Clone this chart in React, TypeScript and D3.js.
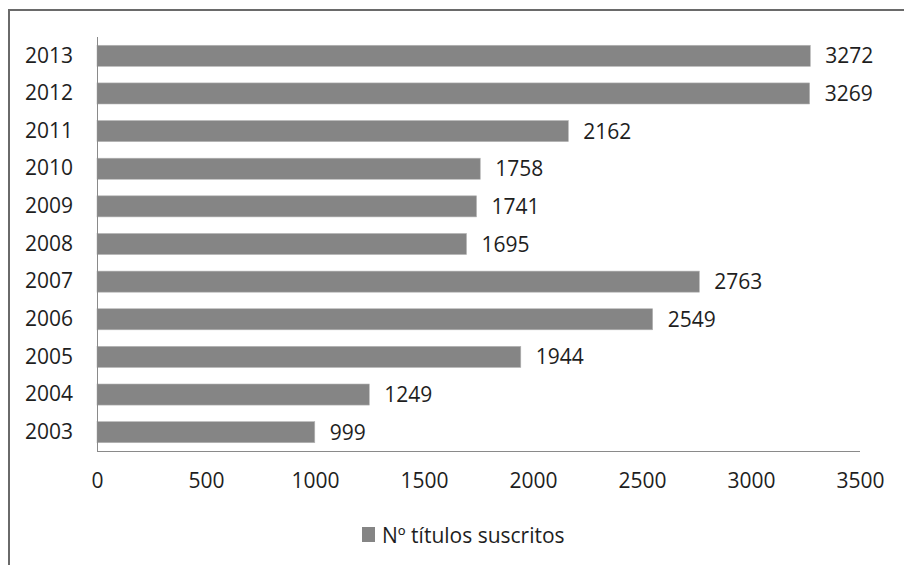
import * as d3 from 'd3';
import React, { useRef, useEffect } from 'react';

const years = ['2003', '2004', '2005', '2006', '2007', '2008', '2009', '2010', '2011', '2012', '2013'];
const titulos = [999, 1249, 1944, 2549, 2763, 1695, 1741, 1758, 2162, 3269, 3272];
const xTicks = [0, 500, 1000, 1500, 2000, 2500, 3000, 3500];
const seriesName = 'Nº títulos suscritos';

const W = 904;
const H = 565;
const FONT = '"Open Sans", "Noto Sans", sans-serif';

function App() {
    const ref = useRef<SVGSVGElement>(null);

    useEffect(() => {
        const svg = d3.select(ref.current);
        svg.selectAll('*').remove();

        const left = 97, right = 860, top = 37, bottom = 451;

        const x = d3.scaleLinear().domain([0, 3500]).range([left, right]);
        const y = d3.scaleBand()
            .domain(years.slice().reverse())
            .range([top, bottom])
            .paddingInner(0.44)
            .paddingOuter(0.22);

        // frame (only top and left edges show in the crop)
        svg.append('path')
            .attr('d', `M9,${H} V10 H${W}`)
            .attr('fill', 'none')
            .attr('stroke', '#6a6a6a')
            .attr('stroke-width', 2);

        // bars
        svg.selectAll('rect.bar')
            .data(years)
            .enter()
            .append('rect')
            .attr('class', 'bar')
            .attr('x', x(0))
            .attr('y', (d) => y(d)!)
            .attr('width', (d, i) => x(titulos[i]) - x(0))
            .attr('height', y.bandwidth())
            .attr('fill', '#858585')
            .attr('stroke', '#b5b5b5')
            .attr('stroke-width', 0.6);

        // value labels
        svg.selectAll('text.val')
            .data(years)
            .enter()
            .append('text')
            .attr('class', 'val')
            .attr('x', (d, i) => x(titulos[i]) + 15)
            .attr('y', (d) => y(d)! + y.bandwidth() / 2)
            .attr('dy', '0.36em')
            .attr('font-family', FONT)
            .attr('font-size', 21)
            .attr('fill', '#1e1e1e')
            .text((d, i) => titulos[i]);

        // y axis
        const yAxis = d3.axisLeft(y).tickSize(0).tickPadding(24);
        const gy = svg.append('g')
            .attr('transform', `translate(${left},0)`)
            .call(yAxis);
        gy.select('.domain')
            .attr('d', `M0.5,${top}V${bottom}`)
            .attr('stroke', '#8a8a8a');
        gy.selectAll('text')
            .attr('font-family', FONT)
            .attr('font-size', 21)
            .attr('fill', '#1e1e1e');

        // x axis
        const xAxis = d3.axisBottom(x).tickValues(xTicks).tickSize(0).tickPadding(22).tickFormat(d3.format('d'));
        const gx = svg.append('g')
            .attr('transform', `translate(0,${bottom})`)
            .call(xAxis);
        gx.select('.domain')
            .attr('d', `M${left},0.5H${right}`)
            .attr('stroke', '#8a8a8a');
        gx.selectAll('text')
            .attr('font-family', FONT)
            .attr('font-size', 21)
            .attr('fill', '#1e1e1e');

        // legend
        const lg = svg.append('g').attr('transform', 'translate(362,527)');
        lg.append('rect')
            .attr('width', 13)
            .attr('height', 15)
            .attr('fill', '#858585');
        lg.append('text')
            .attr('x', 20)
            .attr('y', 8)
            .attr('dy', '0.36em')
            .attr('font-family', FONT)
            .attr('font-size', 21)
            .attr('fill', '#1e1e1e')
            .text(seriesName);
    }, []);

    return (
        <div>
            <svg
                ref={ref}
                width={W}
                height={H}
                style={{ position: 'absolute', left: 0, top: 0, background: '#fff' }}
            ></svg>
        </div>
    );
}

export default App;
